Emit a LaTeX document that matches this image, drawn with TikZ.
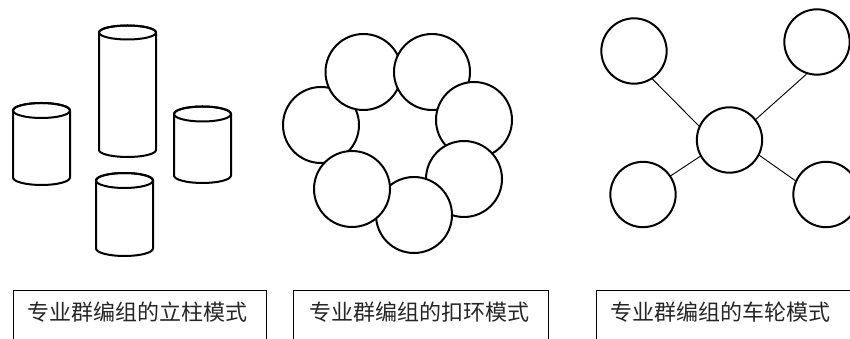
\documentclass[tikz,border=0pt]{standalone}
\usepackage{fontspec}
\newfontfamily\cjk{Noto Sans CJK SC}
\begin{document}
\begin{tikzpicture}[x=0.75pt,y=0.75pt,
  thick line/.style={line width=1.5pt},
  ring/.style={circle,draw,thick line,fill=white,minimum size=57pt,inner sep=0pt,outer sep=0pt},
  wheel/.style={circle,draw,thick line,fill=white,minimum size=49pt,inner sep=0pt,outer sep=0pt},
  spoke/.style={line width=0.7pt},
  labelbox/.style={draw,line width=0.6pt},
  labeltext/.style={font=\cjk\fontsize{16.5pt}{18pt}\selectfont,inner sep=0pt,text=black!85}]
\clip (0,0) rectangle (850,339);
\fill[white] (0,0) rectangle (850,339);
% cylinders
\newcommand{\cyl}[6]{%
  \filldraw[thick line,fill=white] (#1,#3) -- (#1,#4) arc[start angle=180,end angle=360,x radius=#5,y radius=#6] -- (#2,#3) arc[start angle=0,end angle=180,x radius=#5,y radius=#6] -- cycle;
  \draw[thick line] ({(#1+#2)/2},#3) ellipse[x radius=#5,y radius=#6];}
\cyl{13}{70}{228.5}{161.5}{28.5}{7.5}
\cyl{99}{156}{306.5}{189}{28.5}{7}
\cyl{174}{231}{225}{163.5}{28.5}{7.5}
\cyl{96}{153}{158.5}{90.5}{28.5}{7.5}
% ring
\node[ring] (r7) at (321,214) {};
\node[ring] (r1) at (363.5,267) {};
\node[ring] (r2) at (432,267) {};
\node[ring] (r3) at (474,219) {};
\node[ring] (r4) at (464,160) {};
\node[ring] (r5) at (414,124) {};
\node[ring] (r6) at (352,150) {};
% wheel
\node[wheel] (wc) at (729.5,199) {};
\node[wheel] (wtl) at (634,288) {};
\node[wheel] (wtr) at (817,297) {};
\node[wheel] (wbl) at (643,144.5) {};
\node[wheel] (wbr) at (826,144.5) {};
\draw[spoke] (wc.156) -- (wtl.303);
\draw[spoke] (wc.38) -- (wtr.253);
\draw[spoke] (wc.209) -- (wbl.34);
\draw[spoke] (wc.333) -- (wbr.156);
% label boxes
\draw[labelbox] (13,-10) rectangle (266,49);
\draw[labelbox] (293,-10) rectangle (548,49);
\draw[labelbox] (596,-10) rectangle (870,49);
\node[labeltext] (t1) at (137,26.5) {专业群编组的立柱模式};
\node[labeltext] (t2) at (419,26.5) {专业群编组的扣环模式};
\node[labeltext] (t3) at (720,26.5) {专业群编组的车轮模式};
\end{tikzpicture}
\end{document}
